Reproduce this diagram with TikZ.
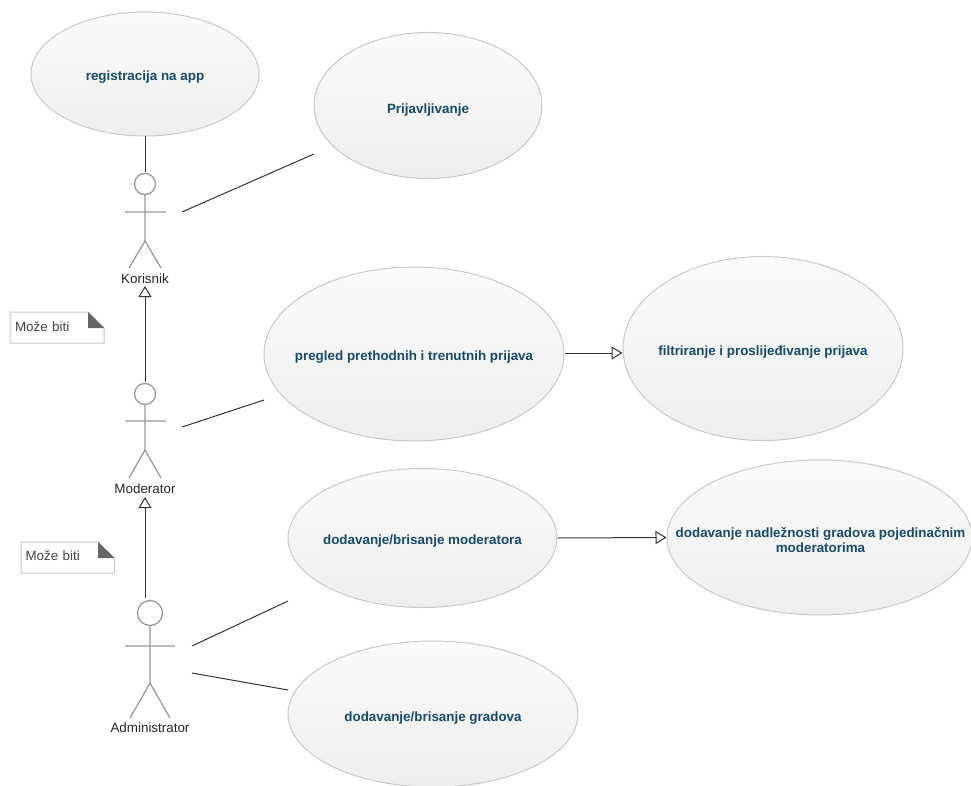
\documentclass[tikz,border=0pt]{standalone}
\usepackage{fontspec}
\setmainfont{Liberation Sans}
\usetikzlibrary{shapes.geometric,arrows.meta}
\definecolor{usetext}{HTML}{174A6B}
\definecolor{useedge}{HTML}{C9C9C9}
\definecolor{usetop}{HTML}{FAFAFA}
\definecolor{usebottom}{HTML}{EEEEEE}
\definecolor{actorline}{HTML}{9A9A9A}
\definecolor{linkline}{HTML}{333333}
\definecolor{foldfill}{HTML}{666666}
\definecolor{notetext}{HTML}{444444}
% text that does not take part in sizing the ellipse: baseline #1 below the centre
\newcommand{\usetxt}[2]{\makebox[0pt]{\raisebox{-#1}[0pt][0pt]{#2}}}
\tikzset{
  usecase/.style={ellipse,draw=useedge,line width=1pt,top color=usetop,bottom color=usebottom,
    inner sep=0pt,font=\fontsize{13.4}{15}\selectfont\bfseries,text=usetext},
  actorhead/.style={circle,draw=actorline,line width=1.3pt,fill=white,inner sep=0pt},
  actorlimb/.style={draw=actorline,line width=1.3pt},
  actorname/.style={font=\fontsize{13.4}{15}\selectfont,text=black!85,inner sep=0pt},
  link/.style={draw=linkline,line width=1pt},
  inherit/.style={link,-{Triangle[open,length=11pt,width=13pt,fill=white]}},
  notebox/.style={rectangle,minimum width=94pt,minimum height=32pt,inner sep=0pt,inner xsep=5pt,
    text width=84pt,align=left,font=\fontsize{13.4}{15}\selectfont,text=notetext},
  noteedge/.style={draw=black!22,line width=1pt,fill=white},
  notefold/.style={fill=foldfill},
}
\begin{document}
\begin{tikzpicture}[x=1pt,y=-1pt]
\path[use as bounding box] (0,0) rectangle (971,786);

% use cases
\node[usecase,minimum width=228pt,minimum height=124pt] (reg) at (145,74) {\usetxt{6.5pt}{registracija na app}};
\node[usecase,minimum width=228pt,minimum height=146pt] (prij) at (428,105.5) {\usetxt{8pt}{Prijavljivanje}};
\node[usecase,minimum width=300pt,minimum height=174pt] (preg) at (414,354) {\usetxt{6.5pt}{pregled prethodnih i trenutnih prijava}};
\node[usecase,minimum width=280pt,minimum height=184pt] (filt) at (763,348.5) {\usetxt{7pt}{filtriranje i proslijeđivanje prijava}};
\node[usecase,minimum width=269pt,minimum height=139pt] (dmod) at (422.5,538) {\usetxt{6.5pt}{dodavanje/brisanje moderatora}};
\node[usecase,minimum width=305pt,minimum height=155pt] (nadl) at (819.5,537.5) {\hspace{2pt}\usetxt{0pt}{dodavanje nadležnosti gradova pojedinačnim}\usetxt{15pt}{moderatorima}};
\node[usecase,minimum width=290pt,minimum height=146pt] (grad) at (433,714) {\usetxt{7.5pt}{dodavanje/brisanje gradova}};

% actors
\node[actorhead,minimum size=21pt] (korh) at (145,184) {};
\draw[actorlimb] (korh) -- (145,241) (125,212) -- (166,212) (129,268) -- (145,241) -- (161,268);
\node[actorname] (korn) at (145,279) {Korisnik};
\node[actorhead,minimum size=21pt] (modh) at (145,394) {};
\draw[actorlimb] (modh) -- (145,450) (125,421) -- (166,421) (129,478) -- (145,450) -- (161,478);
\node[actorname] (modn) at (145,489) {Moderator};
\node[actorhead,minimum size=25pt] (admh) at (150,613) {};
\draw[actorlimb] (admh) -- (150,683) (125,646) -- (175,646) (130,718) -- (150,683) -- (170,718);
\node[actorname] (admn) at (150,728) {Administrator};

% notes
\draw[noteedge] (10,312) -- (88,312) -- (104,328) -- (104,343) -- (10,343) -- cycle;
\fill[notefold] (88,312) -- (104,328) -- (88,328) -- cycle;
\node[notebox] (note1) at (57,326.5) {Može biti};
\draw[noteedge] (21,542) -- (98,542) -- (114.5,558) -- (114.5,573) -- (21,573) -- cycle;
\fill[notefold] (98,542) -- (114.5,558) -- (98,558) -- cycle;
\node[notebox] (note2) at (67.5,556) {Može biti};

% free connector ends
\coordinate (korTipTop) at (145,172);
\coordinate (korArmEnd) at (182,212);
\coordinate (prijEnd) at (314,154);
\coordinate (korFoot) at (145,286);
\coordinate (modTop) at (145,382);
\coordinate (modArmEnd) at (182,427);
\coordinate (pregEnd) at (264,400);
\coordinate (modFoot) at (145,497);
\coordinate (admTop) at (145,598);
\coordinate (admArmEnd) at (192,646);
\coordinate (dmodEnd) at (288,601);
\coordinate (admHipEnd) at (192,673);
\coordinate (gradEnd) at (288,690);

% connectors
\draw[link] (reg.south) -- (korTipTop);
\draw[link] (korArmEnd) -- (prijEnd);
\draw[inherit] (modTop) -- (korFoot);
\draw[link] (modArmEnd) -- (pregEnd);
\draw[inherit] (admTop) -- (modFoot);
\draw[link] (admArmEnd) -- (dmodEnd);
\draw[link] (admHipEnd) -- (gradEnd);
\draw[inherit] (preg.east |- 0,353) -- (filt.west |- 0,353);
\draw[inherit] (dmod.east) -- (nadl.west);
\end{tikzpicture}
\end{document}
